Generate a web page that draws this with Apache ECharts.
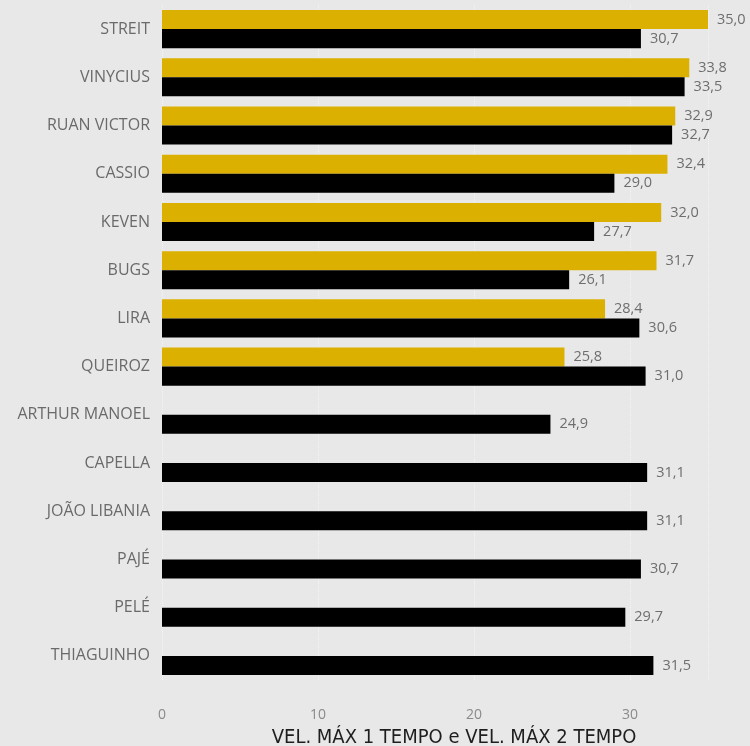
<!DOCTYPE html>
<html><head><meta charset="utf-8">
<script src="https://cdn.jsdelivr.net/npm/echarts@6/dist/echarts.min.js"></script>
<style>html,body{margin:0;padding:0;background:#e8e8e8;}#c{width:750px;height:746px;}</style>
</head><body><div id="c"></div>
<script>
const players = ['STREIT','VINYCIUS','RUAN VICTOR','CASSIO','KEVEN','BUGS','LIRA','QUEIROZ','ARTHUR MANOEL','CAPELLA','JOÃO LIBANIA','PAJÉ','PELÉ','THIAGUINHO'];
const vel1Tempo = [35.0, 33.8, 32.9, 32.4, 32.0, 31.7, 28.4, 25.8, null, null, null, null, null, null];
const vel2Tempo = [30.7, 33.5, 32.7, 29.0, 27.7, 26.1, 30.6, 31.0, 24.9, 31.1, 31.1, 30.7, 29.7, 31.5];
const xTicks = [0, 10, 20, 30];
const axisTitle = 'VEL. MÁX 1 TEMPO e VEL. MÁX 2 TEMPO';

const fmt = p => p.value == null ? '' : Number(p.value).toFixed(1).replace('.', ',');
const labelStyle = {show: true, position: 'right', distance: 9, color: '#6e6e6e', fontFamily: 'Open Sans', fontSize: 14.5, formatter: fmt};

const chart = echarts.init(document.getElementById('c'));
chart.setOption({
  backgroundColor: '#e8e8e8',
  animation: false,
  grid: {left: 162, right: 42, top: 5, bottom: 66, containLabel: false, outerBoundsMode: 'none'},
  xAxis: {
    type: 'value', min: 0, max: 35, interval: 10,
    axisLine: {show: false}, axisTick: {show: false},
    axisLabel: {color: '#8a8a8a', fontFamily: 'Open Sans', fontSize: 14, margin: 28, showMaxLabel: false,
      formatter: v => xTicks.includes(v) ? String(v) : ''},
    splitLine: {show: true, lineStyle: {color: '#f4f4f4', type: 'dotted', width: 1}},
    name: axisTitle, nameLocation: 'middle', nameGap: 48,
    nameTextStyle: {color: '#1e1e1e', fontFamily: "'Liberation Sans Narrow', 'DejaVu Sans Condensed', Roboto, sans-serif", fontSize: 20, fontWeight: 500, padding: [0, 0, 0, 38]}
  },
  yAxis: {
    type: 'category', data: players, inverse: true,
    axisLine: {show: false}, axisTick: {show: false},
    axisLabel: {color: '#6a6a6a', fontFamily: 'Open Sans', fontSize: 16, margin: 12, padding: [0, 0, 2, 0]}
  },
  series: [
    {name: 'VEL. MÁX 1 TEMPO', type: 'bar', data: vel1Tempo, itemStyle: {color: '#dcb000'},
     barGap: '0%', barCategoryGap: '21%', label: labelStyle},
    {name: 'VEL. MÁX 2 TEMPO', type: 'bar', data: vel2Tempo, itemStyle: {color: '#000000'},
     barGap: '0%', barCategoryGap: '21%', label: labelStyle}
  ]
});
</script></body></html>
